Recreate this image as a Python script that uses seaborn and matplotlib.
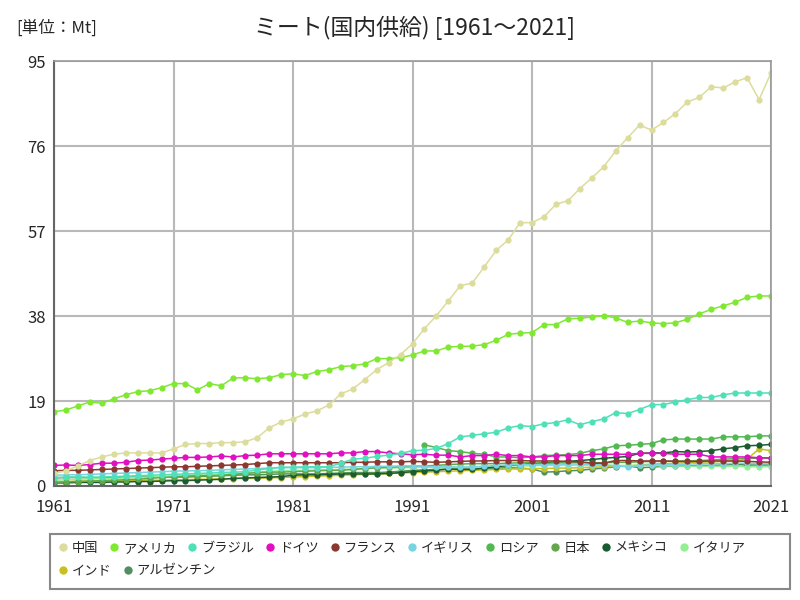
import pandas as pd
import matplotlib.pyplot as plt
import seaborn as sns
import numpy as np
from matplotlib.lines import Line2D
from matplotlib.patches import Rectangle

sns.set_style('white')
plt.rcParams['font.family'] = ['Noto Sans CJK JP', 'DejaVu Sans']

years = list(range(1961, 2022))

# 国内供給 (Mt)
china = [2.8, 3.4, 4.5, 5.7, 6.5, 7.1, 7.4, 7.4, 7.4, 7.4,
         8.3, 9.3, 9.5, 9.5, 9.7, 9.7, 9.9, 10.8, 13.0, 14.3,
         15.0, 16.1, 16.8, 18.1, 20.6, 21.7, 23.8, 26.0, 27.6, 29.4,
         31.8, 35.2, 38.1, 41.4, 44.8, 45.4, 49.0, 52.7, 55.0, 58.9,
         58.9, 60.2, 63.0, 63.8, 66.5, 68.9, 71.4, 74.9, 77.9, 80.7,
         79.6, 81.3, 83.3, 85.9, 86.9, 89.3, 89.0, 90.4, 91.3, 86.4, 92.4]
usa = [16.6, 17.0, 17.9, 18.8, 18.5, 19.5, 20.4, 21.1, 21.3, 22.0,
       22.9, 22.9, 21.5, 22.9, 22.4, 24.2, 24.2, 24.0, 24.2, 24.9,
       25.1, 24.7, 25.6, 26.0, 26.7, 26.9, 27.3, 28.5, 28.5, 28.7,
       29.3, 30.2, 30.2, 31.1, 31.2, 31.3, 31.6, 32.6, 33.9, 34.2,
       34.3, 36.1, 36.1, 37.4, 37.5, 37.8, 38.1, 37.6, 36.6, 36.9,
       36.5, 36.3, 36.5, 37.3, 38.5, 39.5, 40.3, 41.1, 42.2, 42.5, 42.5]
brazil = [1.9, 2.0, 2.0, 2.0, 2.0, 2.1, 2.2, 2.3, 2.4, 2.5,
          2.6, 2.7, 2.8, 2.9, 3.0, 3.1, 3.2, 3.6, 3.9, 4.2,
          4.2, 4.3, 4.3, 4.3, 5.1, 6.0, 6.2, 6.6, 6.9, 7.3,
          7.9, 8.0, 8.4, 9.5, 11.0, 11.3, 11.7, 12.0, 13.0, 13.5,
          13.3, 13.9, 14.2, 14.8, 13.7, 14.4, 15.0, 16.4, 16.2, 17.1,
          18.2, 18.2, 18.8, 19.3, 19.8, 19.8, 20.4, 20.8, 20.8, 20.8, 20.8]
germany = [4.6, 4.7, 4.6, 4.8, 5.1, 5.1, 5.3, 5.7, 5.8, 6.0,
           6.2, 6.4, 6.4, 6.5, 6.7, 6.5, 6.8, 6.9, 7.2, 7.2,
           7.2, 7.2, 7.2, 7.2, 7.4, 7.4, 7.7, 7.7, 7.4, 7.2,
           7.0, 7.1, 6.9, 6.9, 6.5, 6.8, 6.8, 7.1, 6.8, 6.8,
           6.5, 6.5, 6.8, 6.8, 6.8, 7.1, 7.1, 7.1, 7.1, 7.3,
           7.3, 7.3, 7.1, 7.1, 7.1, 6.5, 6.5, 6.5, 6.5, 6.3, 6.3]
france = [3.4, 3.5, 3.5, 3.6, 3.7, 3.8, 3.9, 4.0, 4.1, 4.2,
          4.3, 4.3, 4.4, 4.5, 4.6, 4.7, 4.8, 5.0, 5.2, 5.2,
          5.2, 5.2, 5.2, 5.2, 5.2, 5.3, 5.3, 5.4, 5.4, 5.4,
          5.5, 5.4, 5.3, 5.4, 5.5, 5.6, 5.6, 5.7, 5.7, 5.7,
          5.6, 5.6, 5.6, 5.5, 5.4, 5.1, 5.1, 5.7, 5.7, 5.6,
          5.6, 5.6, 5.5, 5.5, 5.5, 5.6, 5.6, 5.6, 5.5, 5.4, 5.3]
uk = [2.4, 2.5, 2.5, 2.6, 2.7, 2.8, 2.9, 3.0, 3.1, 3.2,
      3.3, 3.4, 3.4, 3.5, 3.6, 3.7, 3.8, 3.9, 4.0, 4.1,
      4.1, 4.1, 4.1, 4.2, 4.2, 4.3, 4.3, 4.4, 4.4, 4.5,
      4.5, 4.4, 4.3, 4.3, 4.2, 4.3, 4.4, 4.6, 4.7, 4.8,
      4.7, 4.8, 4.8, 4.9, 4.9, 4.8, 4.7, 4.5, 4.3, 4.6,
      4.7, 4.8, 4.8, 4.9, 5.0, 5.0, 5.0, 5.1, 5.1, 5.0, 5.0]
russia = [np.nan] * 31 + [
    9.2, 8.6, 7.9, 7.7, 7.3, 7.1, 6.5, 6.5, 6.3,
    6.5, 6.8, 6.9, 7.0, 7.3, 7.9, 8.3, 9.0, 9.1, 9.3,
    9.5, 10.3, 10.5, 10.5, 10.5, 10.5, 11.0, 11.0, 11.0, 11.2, 11.2]
japan = [0.8, 0.9, 1.0, 1.1, 1.2, 1.3, 1.4, 1.5, 1.7, 1.9,
         2.0, 2.2, 2.3, 2.3, 2.4, 2.6, 2.8, 3.0, 3.1, 3.1,
         3.2, 3.3, 3.4, 3.5, 3.5, 3.7, 3.9, 4.1, 4.2, 4.3,
         4.4, 4.5, 4.6, 4.8, 4.9, 5.0, 5.0, 5.0, 5.1, 5.2,
         5.2, 5.0, 5.2, 5.1, 5.3, 5.2, 5.2, 5.3, 5.3, 5.4,
         5.5, 5.5, 5.6, 5.6, 5.7, 5.8, 6.0, 6.1, 6.2, 6.2, 6.2]
mexico = [0.7, 0.7, 0.8, 0.8, 0.8, 0.9, 0.9, 1.0, 1.0, 1.1,
          1.2, 1.2, 1.3, 1.4, 1.5, 1.7, 1.8, 1.9, 2.0, 2.1,
          2.4, 2.5, 2.5, 2.6, 2.7, 2.7, 2.7, 2.7, 2.8, 3.0,
          3.2, 3.4, 3.5, 3.8, 3.7, 3.7, 4.0, 4.3, 4.6, 4.8,
          5.0, 5.2, 5.3, 5.5, 5.7, 5.9, 6.2, 6.4, 6.6, 7.3,
          7.4, 7.4, 7.7, 7.6, 7.7, 7.9, 8.3, 8.6, 9.0, 9.1, 9.3]
italy = [1.3, 1.4, 1.5, 1.6, 1.6, 1.7, 1.8, 1.9, 2.0, 2.1,
         2.3, 2.4, 2.5, 2.6, 2.6, 2.8, 2.9, 3.1, 3.3, 3.4,
         3.5, 3.5, 3.6, 3.6, 3.7, 3.8, 3.9, 4.0, 4.0, 4.1,
         4.1, 4.2, 4.1, 4.1, 4.2, 4.2, 4.3, 4.4, 4.5, 4.5,
         4.5, 4.6, 4.6, 4.6, 4.6, 4.7, 4.7, 4.6, 4.6, 4.6,
         4.6, 4.5, 4.5, 4.4, 4.4, 4.4, 4.4, 4.4, 4.3, 4.3, 4.3]
india = [1.0, 1.0, 1.1, 1.1, 1.1, 1.2, 1.2, 1.2, 1.3, 1.3,
         1.4, 1.4, 1.5, 1.5, 1.6, 1.6, 1.7, 1.7, 1.8, 1.9,
         2.0, 2.1, 2.2, 2.3, 2.4, 2.5, 2.6, 2.7, 2.8, 2.9,
         3.0, 3.1, 3.2, 3.3, 3.4, 3.5, 3.6, 3.7, 3.8, 3.8,
         3.9, 3.9, 4.0, 4.0, 4.1, 4.2, 4.3, 4.4, 4.5, 4.7,
         4.9, 5.0, 5.1, 5.2, 5.3, 5.4, 5.5, 5.6, 6.0, 8.3, 7.9]
argentina = [1.8, 1.9, 1.9, 1.8, 1.8, 1.9, 2.0, 2.0, 2.1, 2.1,
             2.0, 2.0, 2.1, 2.2, 2.3, 2.4, 2.5, 2.5, 2.6, 2.7,
             2.7, 2.7, 2.7, 2.8, 2.9, 3.0, 3.0, 3.0, 3.1, 3.3,
             3.5, 3.6, 3.7, 3.8, 3.8, 3.8, 3.9, 4.0, 4.1, 4.0,
             3.8, 3.1, 3.2, 3.4, 3.5, 3.8, 4.0, 4.3, 4.5, 4.1,
             4.2, 4.4, 4.5, 4.5, 4.6, 4.6, 4.7, 4.8, 4.7, 4.7, 4.7]

names = ['中国', 'アメリカ', 'ブラジル', 'ドイツ', 'フランス', 'イギリス',
         'ロシア', '日本', 'メキシコ', 'イタリア', 'インド', 'アルゼンチン']
series = [china, usa, brazil, germany, france, uk,
          russia, japan, mexico, italy, india, argentina]
colors = ['#dcdc9c', '#80e832', '#50e0b8', '#e010c0', '#8c3830', '#78d4e0',
          '#52b852', '#62a84a', '#1a5c30', '#94ee94', '#c8c020', '#509060']

rows = []
for n, vals in zip(names, series):
    for y, v in zip(years, vals):
        rows.append({'year': y, 'value': v, 'country': n})
df = pd.DataFrame(rows)

fig = plt.figure(figsize=(8, 6), dpi=100)
ax = fig.add_axes([0.0675, 0.19, 0.8963, 0.708])

sns.lineplot(data=df, x='year', y='value', hue='country', hue_order=names[::-1],
             palette=dict(zip(names, colors)), marker='o', markersize=4.5,
             markeredgewidth=0, linewidth=1.1, legend=False, ax=ax)

ax.set_xlim(1961, 2021)
ax.set_ylim(0, 95)
ax.set_xticks([1961, 1971, 1981, 1991, 2001, 2011, 2021])
ax.set_yticks([0, 19, 38, 57, 76, 95])
ax.grid(True, color='#b8b8b8', linewidth=1.5)
ax.set_axisbelow(True)
ax.set_xlabel('')
ax.set_ylabel('')
ax.tick_params(axis='both', labelsize=12, length=0)
ax.tick_params(axis='x', pad=9)
ax.tick_params(axis='y', pad=6)
for s in ['top', 'right']:
    ax.spines[s].set_color('#999999')
    ax.spines[s].set_linewidth(1.2)
for s in ['left', 'bottom']:
    ax.spines[s].set_color('#666666')
    ax.spines[s].set_linewidth(1.5)

fig.text(0.518, 0.953, 'ミート(国内供給) [1961～2021]', ha='center', va='center', fontsize=16.5)
fig.text(0.02, 0.953, '[単位：Mt]', ha='left', va='center', fontsize=12)

# 凡例 (1行目10項目, 2行目2項目)
fig.patches.append(Rectangle((0.0625, 0.018), 0.925, 0.092, transform=fig.transFigure,
                             fill=False, edgecolor='#888888', linewidth=1.5))
handles = [Line2D([], [], marker='o', linestyle='', color=c, markersize=6,
                  markeredgewidth=0) for c in colors]
leg_kw = dict(loc='upper left', frameon=False, fontsize=9.5, handletextpad=0.18,
              columnspacing=0.7, handlelength=1.0, borderaxespad=0)
fig.legend(handles[:10], names[:10], bbox_to_anchor=(0.064, 0.106), ncol=10, **leg_kw)
fig.legend(handles[10:], names[10:], bbox_to_anchor=(0.064, 0.068), ncol=2, **leg_kw)

plt.savefig('out.png', dpi=100)
